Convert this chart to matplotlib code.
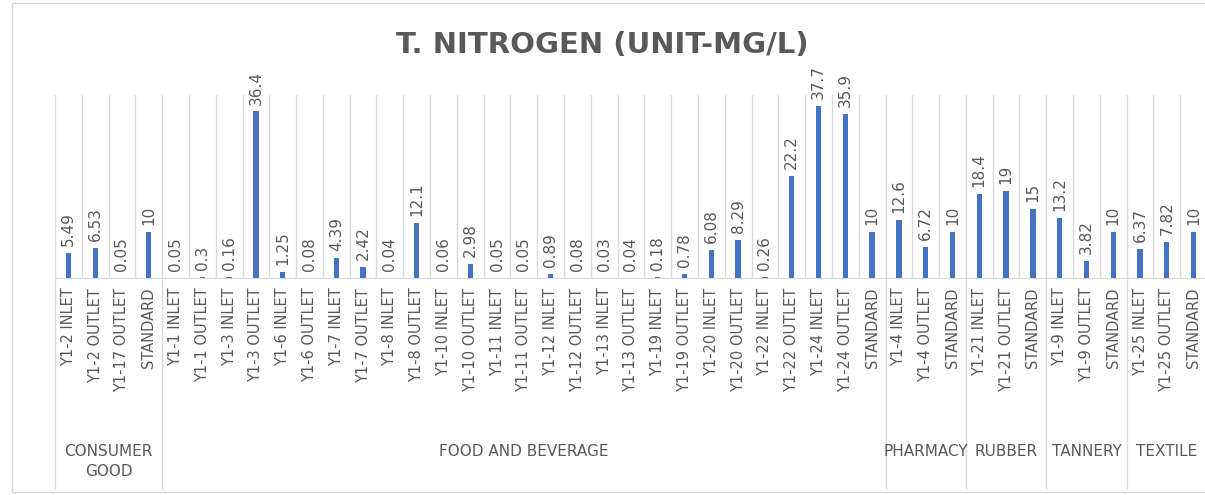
import matplotlib
matplotlib.use("Agg")
import matplotlib.pyplot as plt
import matplotlib.transforms as mtransforms
from matplotlib.patches import Rectangle

title = "T. NITROGEN (UNIT-MG/L)"

groups = ["CONSUMER\nGOOD", "FOOD AND BEVERAGE", "PHARMACY", "RUBBER", "TANNERY", "TEXTILE"]

categories = [
    ["Y1-2 INLET", "Y1-2 OUTLET", "Y1-17 OUTLET", "STANDARD"],
    ["Y1-1 INLET", "Y1-1 OUTLET", "Y1-3 INLET", "Y1-3 OUTLET", "Y1-6 INLET", "Y1-6 OUTLET",
     "Y1-7 INLET", "Y1-7 OUTLET", "Y1-8 INLET", "Y1-8 OUTLET", "Y1-10 INLET", "Y1-10 OUTLET",
     "Y1-11 INLET", "Y1-11 OUTLET", "Y1-12 INLET", "Y1-12 OUTLET", "Y1-13 INLET", "Y1-13 OUTLET",
     "Y1-19 INLET", "Y1-19 OUTLET", "Y1-20 INLET", "Y1-20 OUTLET", "Y1-22 INLET", "Y1-22 OUTLET",
     "Y1-24 INLET", "Y1-24 OUTLET", "STANDARD"],
    ["Y1-4 INLET", "Y1-4 OUTLET", "STANDARD"],
    ["Y1-21 INLET", "Y1-21 OUTLET", "STANDARD"],
    ["Y1-9 INLET", "Y1-9 OUTLET", "STANDARD"],
    ["Y1-25 INLET", "Y1-25 OUTLET", "STANDARD"],
]

values = [
    [5.49, 6.53, 0.05, 10],
    [0.05, 0.3, 0.16, 36.4, 1.25, 0.08, 4.39, 2.42, 0.04, 12.1, 0.06, 2.98, 0.05, 0.05,
     0.89, 0.08, 0.03, 0.04, 0.18, 0.78, 6.08, 8.29, 0.26, 22.2, 37.7, 35.9, 10],
    [12.6, 6.72, 10],
    [18.4, 19, 15],
    [13.2, 3.82, 10],
    [6.37, 7.82, 10],
]

BAR = "#4472C4"
TXT = "#595959"
GRID = "#D9D9D9"

W, H = 1205, 495
fig = plt.figure(figsize=(W / 100, H / 100), dpi=100)
fig.patch.set_facecolor("white")

# outer chart frame
fig.add_artist(Rectangle((12 / W, 3 / H), 1.0, (492 - 3) / H, transform=fig.transFigure,
                         fill=False, edgecolor=GRID, linewidth=1))

left, right = 55, 1207
base, top = 278, 95
ax = fig.add_axes([left / W, (H - base) / H, (right - left) / W, (base - top) / H])

labels = [c for g in categories for c in g]
vals = [v for g in values for v in g]
n = len(labels)
xs = list(range(n))

ax.bar(xs, vals, width=0.2, color=BAR, zorder=3)
ax.set_xlim(-0.5, n - 0.5)
ax.set_ylim(0, 40)

for s in ["top", "right", "left"]:
    ax.spines[s].set_visible(False)
ax.spines["bottom"].set_color(GRID)
ax.set_yticks([])

# vertical gridlines at category boundaries
for b in range(n + 1):
    ax.axvline(b - 0.5, color=GRID, linewidth=1, zorder=1)

ax.set_xticks(xs)
ax.set_xticklabels(labels, rotation=90, fontsize=10.5, color=TXT, va="top", ha="center")
ax.tick_params(axis="x", length=0, pad=7)

# value labels
for x, v in zip(xs, vals):
    ax.annotate(f"{v:g}", (x, v), xytext=(0, 5), textcoords="offset points",
                rotation=90, ha="center", va="bottom", fontsize=11, color=TXT)

# group separators and labels
trans = mtransforms.blended_transform_factory(ax.transData, ax.transAxes)
ax_h = base - top
y_bottom = -(488 - base) / ax_h
y_lab = -(444 - base) / ax_h
start = 0
for g, cats in zip(groups, categories):
    ax.plot([start - 0.5, start - 0.5], [0, y_bottom], transform=trans, color=GRID,
            linewidth=1, clip_on=False)
    center = start + (len(cats) - 1) / 2
    ax.text(center, y_lab, g, transform=trans, ha="center", va="top", fontsize=11,
            color=TXT, linespacing=1.45)
    start += len(cats)
ax.plot([start - 0.5, start - 0.5], [0, y_bottom], transform=trans, color=GRID,
        linewidth=1, clip_on=False)

fig.text(602 / W, 1 - 45 / H, title, ha="center", va="center", fontsize=21,
         fontweight="bold", color=TXT)

fig.savefig("out.png", dpi=100)
